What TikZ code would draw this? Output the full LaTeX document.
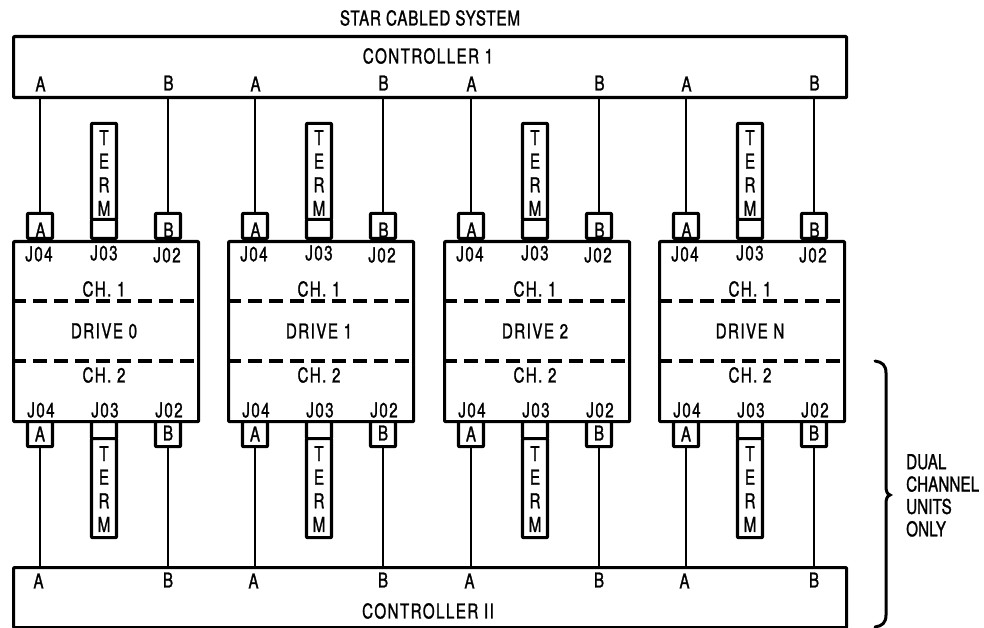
\documentclass[tikz,border=0pt]{standalone}
\usepackage{fontspec}
\setmainfont[FakeStretch=0.74,FakeBold=1.2,LetterSpace=7]{TeX Gyre Heros}
\newfontfamily\tightfont[FakeStretch=0.74,FakeBold=1.2,LetterSpace=0.5]{TeX Gyre Heros}
\newfontfamily\titlefont[FakeStretch=0.74,FakeBold=1.2,LetterSpace=4]{TeX Gyre Heros}
\begin{document}
\begin{tikzpicture}[x=1pt,y=-1pt,
  lab/.style={font=\fontsize{20.5}{22}\selectfont,inner sep=0pt,text=black},
  thick box/.style={draw=black,line width=3.2pt,line join=round,rounded corners=0.8pt},
  wire/.style={draw=black,line width=2pt},
  dashline/.style={draw=black,line width=3.2pt,dash pattern=on 14pt off 7pt},
  sbox/.style={thick box,fill=white,inner sep=0pt,minimum width=25pt}]
\useasboundingbox (0,0) rectangle (984,628);
\node[lab,font=\fontsize{20.5}{22}\selectfont\titlefont] (title) at (430,18) {STAR CABLED SYSTEM};
\node[thick box,minimum width=833pt,minimum height=61pt,anchor=north west,inner sep=0pt] (c1) at (12,35) {};
\node[lab] at (428,56) {CONTROLLER 1};
\node[thick box,minimum width=833pt,minimum height=60pt,anchor=north west,inner sep=0pt] (c2) at (12,566) {};
\node[lab] at (428,611) {CONTROLLER II};
\foreach \i/\dx/\nm in {0/0/0,1/215/1,2/431/2,3/646/N}{
  \begin{scope}[shift={(\dx,0)}]
  % drive
  \node[thick box,minimum width=185pt,minimum height=180pt,anchor=north west,inner sep=0pt] (d\i) at (12,240) {};
  \coordinate (dl1\i) at (12,301); \coordinate (dr1\i) at (197,301);
  \coordinate (dl2\i) at (12,361); \coordinate (dr2\i) at (197,361);
  \draw[dashline] (dl1\i) -- (dr1\i);
  \draw[dashline] (dl2\i) -- (dr2\i);
  \node[lab] at (104,289) {CH. 1};
  \node[lab] at (104,375) {CH. 2};
  \node[lab] at (104,331) {DRIVE \nm};
  \node[lab] at (39,254) {J04};
  \node[lab] at (104,253) {J03};
  \node[lab] at (167,255) {J02};
  \node[lab] at (41,410) {J04};
  \node[lab] at (105,410) {J03};
  \node[lab] at (169,410) {J02};
  % top connectors
  \node[sbox,minimum height=25pt,anchor=south] (ta\i) at (40,240) {};
  \node[lab] at (40.5,230) {A};
  \node[sbox,minimum height=25pt,anchor=south] (tb\i) at (168,240) {};
  \node[lab] at (168.5,230) {B};
  \node[sbox,minimum height=19pt,anchor=south] (tj\i) at (104,240) {};
  \node[sbox,minimum height=96pt,anchor=south] (tt\i) at (104,221) {};
  \node[lab,align=center,anchor=center] at (104,173) {T\\[1.6pt]E\\[1.6pt]R\\[1.6pt]M};
  % bottom connectors
  \node[sbox,minimum height=25pt,anchor=north] (ba\i) at (40,420) {};
  \node[lab] at (40,434) {A};
  \node[sbox,minimum height=25pt,anchor=north] (bb\i) at (168,420) {};
  \node[lab] at (168,433) {B};
  \node[sbox,minimum height=17pt,anchor=north] (bj\i) at (104,420) {};
  \node[sbox,minimum height=99pt,anchor=north] (bt\i) at (104,437) {};
  \node[lab,align=center,anchor=center] at (104,489) {T\\[1.6pt]E\\[1.6pt]R\\[1.6pt]M};
  % controller labels
  \node[lab] at (40.5,84) {A};
  \node[lab] at (168.5,83) {B};
  \node[lab] at (38.5,581) {A};
  \node[lab] at (168,580) {B};
  \end{scope}
  \draw[wire] (ta\i.north) -- (ta\i.north |- c1.south);
  \draw[wire] (tb\i.north) -- (tb\i.north |- c1.south);
  \draw[wire] (ba\i.south) -- (ba\i.south |- c2.north);
  \draw[wire] (bb\i.south) -- (bb\i.south |- c2.north);
}
\node[lab,font=\fontsize{20.5}{22}\selectfont\tightfont,align=left,anchor=north west] (note) at (906,454) {DUAL\\[0.4pt]CHANNEL\\[0.4pt]UNITS\\[0.4pt]ONLY};
\draw[black,line width=3pt,line cap=round] (875,361) .. controls (882,362) and (886,365) .. (886,373)
  -- (886,486) .. controls (886,491) and (887,494) .. (890,495)
  .. controls (887,496) and (886,499) .. (886,504)
  -- (886,615) .. controls (886,623) and (882,626) .. (875,627);
\end{tikzpicture}
\end{document}
